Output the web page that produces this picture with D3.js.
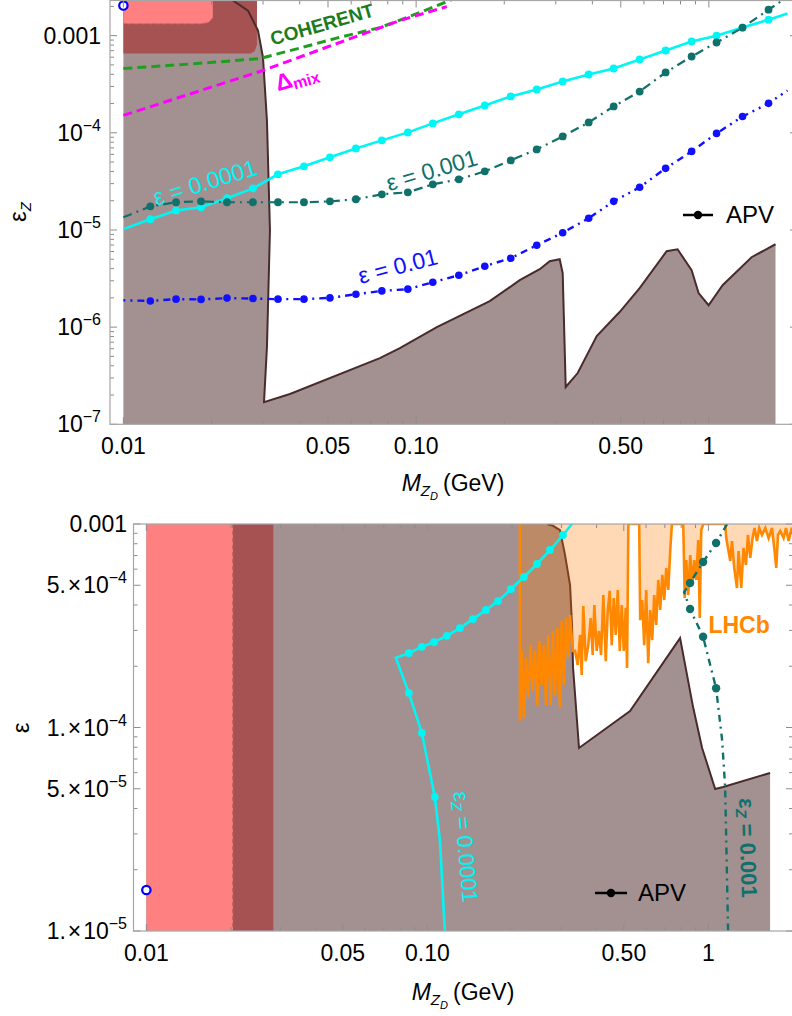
<!DOCTYPE html>
<html>
<head>
<meta charset="utf-8">
<script src="https://d3js.org/d3.v7.min.js"></script>
<style>
  body { margin: 0; background: #fff; }
  svg { font-family: "Liberation Sans", Arial, sans-serif; }
</style>
</head>
<body>
<script>
// ---------- data ----------

// mass grid of the dotted curves (top panel), GeV
var curveMass = [0.01, 0.01236, 0.01513, 0.01842, 0.02259, 0.0277, 0.03373, 0.04138, 0.05076, 0.06226,
  0.07636, 0.09369, 0.114, 0.1399, 0.1716, 0.2105, 0.2582, 0.3167, 0.3885, 0.4729,
  0.5801, 0.7116, 0.873, 1.062, 1.303, 1.599, 1.856];
// epsilon_Z along the curves for fixed epsilon
var epsZ_e1em4 = [1.02e-5, 1.29e-5, 1.59e-5, 1.71e-5, 2.12e-5, 2.68e-5, 3.74e-5, 4.52e-5, 5.59e-5, 6.91e-5,
  8.36e-5, 1.01e-4, 1.25e-4, 1.55e-4, 1.91e-4, 2.37e-4, 2.79e-4, 3.38e-4, 3.98e-4, 4.59e-4,
  5.68e-4, 7.03e-4, 8.70e-4, 1.00e-3, 1.21e-3, 1.46e-3, 1.69e-3];
var epsZ_e1em3 = [1.35e-5, 1.75e-5, 1.93e-5, 1.97e-5, 1.93e-5, 1.93e-5, 1.93e-5, 1.93e-5, 1.97e-5, 2.07e-5,
  2.33e-5, 2.44e-5, 2.95e-5, 3.32e-5, 4.01e-5, 5.20e-5, 6.75e-5, 9.18e-5, 1.28e-4, 1.87e-4,
  2.66e-4, 4.18e-4, 6.10e-4, 8.50e-4, 1.21e-3, 1.85e-3, 2.5e-3];
var epsZ_e1em2 = [1.89e-6, 1.86e-6, 1.94e-6, 1.93e-6, 1.99e-6, 1.97e-6, 1.94e-6, 1.94e-6, 2.00e-6, 2.18e-6,
  2.36e-6, 2.46e-6, 2.90e-6, 3.42e-6, 4.24e-6, 5.12e-6, 6.96e-6, 9.36e-6, 1.32e-5, 1.97e-5,
  2.75e-5, 4.31e-5, 6.44e-5, 9.86e-5, 1.47e-4, 2.01e-4, 2.73e-4];

// COHERENT and Delta_mix bounds (top panel)
var coherentMass = [0.01, 0.01562, 0.02313, 0.02928, 0.04011, 0.05492, 0.07517, 0.1029, 0.1303, 0.16];
var coherentEps = [4.59e-4, 5.02e-4, 5.48e-4, 5.82e-4, 7.46e-4, 9.63e-4, 1.21e-3, 1.73e-3, 2.30e-3, 3.2e-3];
var deltaMixMass = [0.01, 0.02998, 0.088, 0.1273];
var deltaMixEps = [1.51e-4, 4.38e-4, 1.43e-3, 1.99e-3];

// APV excluded region boundary, top panel (eps_Z)
var apvTopMass = [0.02368, 0.02664, 0.02883, 0.02998, 0.03093, 0.03167, 0.03093, 0.03022, 0.03707, 0.07517,
  0.08799, 0.1177, 0.1784, 0.2259, 0.2643, 0.286, 0.3093, 0.3167, 0.3243, 0.3564,
  0.4139, 0.4955, 0.5801, 0.7171, 0.7818, 0.873, 0.9223, 0.9977, 1.114, 1.399, 1.689];
var apvTopEps = [2.3e-3, 1.81e-3, 1.13e-3, 5.96e-4, 1.34e-4, 1e-5, 6.23e-7, 1.69e-7, 2.05e-7, 4.8e-7,
  6.08e-7, 1e-6, 1.85e-6, 3.04e-6, 3.95e-6, 4.77e-6, 5.0e-6, 3.59e-6, 2.42e-7, 3.37e-7,
  8.08e-7, 1.43e-6, 2.52e-6, 6.04e-6, 6.33e-6, 3.85e-6, 2.24e-6, 1.68e-6, 2.70e-6, 5.24e-6, 7.13e-6];

// other excluded patches, top panel
var darkTopMass = [0.01, 0.0286, 0.0286, 0.0281, 0.0272, 0.01];
var darkTopEps = [2.3e-3, 2.3e-3, 8.1e-4, 6.9e-4, 6.55e-4, 6.55e-4];
var pinkTopMass = [0.01, 0.0202, 0.0202, 0.0196, 0.0186, 0.01];
var pinkTopEps = [2.3e-3, 2.3e-3, 1.55e-3, 1.38e-3, 1.33e-3, 1.33e-3];

// APV boundary, bottom panel (eps)
var apvBotMass = [0.2665, 0.2799, 0.2965, 0.3089, 0.3219, 0.3271, 0.3298, 0.3464, 0.5262, 0.7929,
  0.882, 0.9497, 1.057, 1.128, 1.658];
var apvBotEps = [1e-3, 9.8e-4, 9.34e-4, 7.04e-4, 5.01e-4, 3.19e-4, 1.98e-4, 7.93e-5, 1.206e-4, 2.75e-4,
  1.26e-4, 7.93e-5, 4.99e-5, 5.1e-5, 5.98e-5];
var pinkBotMass = [0.01, 0.0203];
var darkBotMass = [0.0203, 0.0283];

// eps_Z = 0.0001 and 0.001 curves, bottom panel
var ezLowMass = [0.3271, 0.3038, 0.2731, 0.2455, 0.2206, 0.1983, 0.1783, 0.1616, 0.1452, 0.1305,
  0.1173, 0.1055, 0.09559, 0.0859, 0.07723, 0.0859, 0.09559, 0.1063, 0.1108, 0.1154];
var ezLowEps = [1.0e-3, 8.83e-4, 7.45e-4, 6.36e-4, 5.49e-4, 4.79e-4, 4.18e-4, 3.78e-4, 3.41e-4, 3.08e-4,
  2.82e-4, 2.63e-4, 2.49e-4, 2.32e-4, 2.20e-4, 1.48e-4, 9.4e-5, 4.56e-5, 2.80e-5, 1.0e-5];
var ezLowDot = [0, 1, 1, 1, 1, 1, 1, 1, 1, 1, 1, 1, 1, 1, 0, 1, 1, 1, 0, 0];
var ezHighMass = [1.166, 1.065, 0.9574, 0.8605, 0.8195, 0.8605, 0.9574, 1.065, 1.119, 1.147, 1.175];
var ezHighEps = [1e-3, 8.07e-4, 6.51e-4, 5.13e-4, 4.63e-4, 3.82e-4, 2.79e-4, 1.56e-4, 8.68e-5, 5.1e-5, 1e-5];
var ezHighDot = [0, 1, 1, 1, 0, 1, 1, 1, 0, 0, 0];

// LHCb lower edge (eps), bottom panel
var lhcbMass = [0.2135, 0.2135, 0.2165, 0.2206, 0.2243, 0.2286, 0.2331, 0.2369, 0.2415, 0.246,
  0.2501, 0.2551, 0.2599, 0.2643, 0.2693, 0.2746, 0.2792, 0.2846, 0.2899, 0.2965,
  0.3005, 0.3063, 0.3114, 0.3173, 0.3219, 0.3289, 0.3354, 0.3427, 0.3494, 0.3541,
  0.3588, 0.3659, 0.3738, 0.3813, 0.3875, 0.3927, 0.4004, 0.4081, 0.4149, 0.4228,
  0.4312, 0.4383, 0.4455, 0.4529, 0.4604, 0.468, 0.4758, 0.4837, 0.4916, 0.4998,
  0.508, 0.5135, 0.519,
  0.5672, 0.5719, 0.5813, 0.5909, 0.6007, 0.6107, 0.6208, 0.631, 0.6415, 0.6521,
  0.6629, 0.6739, 0.685, 0.6963, 0.7079, 0.7196, 0.7313, 0.7415,
  0.8137, 0.8237, 0.8339, 0.8477, 0.8618, 0.876, 0.8905, 0.9052, 0.9202, 0.9316, 0.9431, 0.9587,
  1.148, 1.1575, 1.196, 1.2127, 1.2358, 1.2636, 1.2803, 1.3088, 1.3336, 1.3602,
  1.3826, 1.409, 1.4359, 1.4596, 1.4886, 1.5171, 1.5514, 1.5941, 1.6379, 1.6832,
  1.7196, 1.7437, 1.7682, 1.802, 1.8514, 1.8883, 1.929, 1.972, 2.0];
var lhcbEps = [1e-3, 1.08e-4, 2.38e-4, 1.11e-4, 2.20e-4, 1.40e-4, 2.54e-4, 1.51e-4, 2.38e-4, 1.29e-4,
  2.66e-4, 1.62e-4, 2.54e-4, 1.29e-4, 2.85e-4, 1.29e-4, 2.98e-4, 1.44e-4, 3.08e-4, 1.25e-4,
  3.34e-4, 1.62e-4, 3.45e-4, 2.20e-4, 3.57e-4, 2.38e-4, 2.38e-4, 2.03e-4, 2.85e-4, 1.81e-4,
  3.95e-4, 2.12e-4, 2.54e-4, 3.45e-4, 2.27e-4, 4.00e-4, 2.38e-4, 2.98e-4, 2.27e-4, 4.48e-4,
  2.12e-4, 3.74e-4, 4.69e-4, 2.54e-4, 4.33e-4, 2.85e-4, 4.74e-4, 2.38e-4, 4.00e-4, 2.38e-4,
  3.87e-4, 1.96e-4, 1e-3,
  1e-3, 3.37e-4, 4.23e-4, 2.54e-4, 4.74e-4, 2.07e-4, 3.78e-4, 2.69e-4, 4.48e-4, 3.19e-4,
  5.31e-4, 3.78e-4, 5.62e-4, 4.23e-4, 6.08e-4, 4.74e-4, 7.37e-4, 1e-3,
  1e-3, 4.33e-4, 6.65e-4, 4.48e-4, 7.04e-4, 5.01e-4, 6.65e-4, 5.31e-4, 8.34e-4, 3.45e-4, 9.34e-4, 1e-3,
  1e-3, 8.53e-4, 6.58e-4, 8.25e-4, 6.08e-4, 4.85e-4, 7.37e-4, 4.85e-4, 7.62e-4, 6.29e-4,
  8.83e-4, 6.81e-4, 8.53e-4, 9.56e-4, 8.25e-4, 9.56e-4, 8.83e-4, 9.56e-4, 8.53e-4, 9.56e-4,
  7.37e-4, 6.08e-4, 8.83e-4, 9.24e-4, 8.53e-4, 9.56e-4, 8.25e-4, 9.34e-4, 9.0e-4];

// tick labels
var xMajor = [0.01, 0.05, 0.1, 0.5, 1];
var xMajorText = ["0.01", "0.05", "0.10", "0.50", "1"];
var yTopMajor = [1e-3, 1e-4, 1e-5, 1e-6, 1e-7];
var yTopMajorText = [["0.001", ""], ["10", "\u22124"], ["10", "\u22125"], ["10", "\u22126"], ["10", "\u22127"]];
var yBotMajor = [1e-3, 5e-4, 1e-4, 5e-5, 1e-5];
var yBotMajorText = [["0.001", ""], ["5.\u200a\u00d7\u200a10", "\u22124"], ["1.\u200a\u00d7\u200a10", "\u22124"],
  ["5.\u200a\u00d7\u200a10", "\u22125"], ["1.\u200a\u00d7\u200a10", "\u22125"]];

// ---------- colours ----------
var cGrey = "#a39191", cEdge = "#4a2b2b", cDark = "#a65252", cPink = "#ff8080";
var cCyan = "#00f5f5", cTeal = "#10706a", cBlue = "#1010ff";
var cGreen = "#1f9f1f", cGreenText = "#1c7c1c", cMag = "#ff00ff", cOrange = "#ff8800";

function zip(a, b) { return a.map(function(v, i) { return [v, b[i]]; }); }

var svg = d3.select("body").append("svg")
    .attr("width", 792).attr("height", 1016);

// scales
var xTop = d3.scaleLog().domain([0.009, 2]).range([110, 797]);
var yTop = d3.scaleLog().domain([1e-7, 2.3e-3]).range([424.3, 0.5]);
var xBot = d3.scaleLog().domain([0.009, 2]).range([133.5, 793]);
var yBot = d3.scaleLog().domain([1e-5, 1e-3]).range([931, 524]);

var defs = svg.append("defs");
defs.append("clipPath").attr("id", "clipTop").append("rect")
    .attr("x", 110).attr("y", 0.5).attr("width", 687).attr("height", 423.8);
defs.append("clipPath").attr("id", "clipBot").append("rect")
    .attr("x", 133.5).attr("y", 524).attr("width", 659.5).attr("height", 407);

function minorTicks(lo, hi, major) {
    var out = [];
    for (var e = -8; e <= 1; e++) {
        for (var m = 1; m <= 9; m++) {
            var v = m * Math.pow(10, e);
            if (v > lo * 1.001 && v < hi * 0.999 &&
                !major.some(function(t) { return Math.abs(t - v) / t < 1e-6; })) out.push(v);
        }
    }
    return out;
}

// frame with inward ticks on all four sides
function drawFrame(g, x, y, yMajor) {
    var x0 = x.range()[0], x1 = x.range()[1], y0 = y.range()[0], y1 = y.range()[1];
    var xMinor = minorTicks(x.domain()[0], x.domain()[1], xMajor);
    var yMinor = minorTicks(y.domain()[0], y.domain()[1], yMajor);
    var tk = g.append("g").attr("stroke", "#8c8c8c").attr("stroke-width", 1);
    [[xMajor, 7], [xMinor, 4]].forEach(function(s) {
        s[0].forEach(function(v) {
            tk.append("line").attr("x1", x(v)).attr("x2", x(v)).attr("y1", y0).attr("y2", y0 - s[1]);
            tk.append("line").attr("x1", x(v)).attr("x2", x(v)).attr("y1", y1).attr("y2", y1 + s[1]);
        });
    });
    [[yMajor, 7], [yMinor, 4]].forEach(function(s) {
        s[0].forEach(function(v) {
            tk.append("line").attr("y1", y(v)).attr("y2", y(v)).attr("x1", x0).attr("x2", x0 + s[1]);
            tk.append("line").attr("y1", y(v)).attr("y2", y(v)).attr("x1", x1).attr("x2", x1 - s[1]);
        });
    });
    g.append("rect")
        .attr("x", x0).attr("y", y1).attr("width", x1 - x0).attr("height", y0 - y1)
        .attr("fill", "none").attr("stroke", "#a6a6a6").attr("stroke-width", 1.2);
}

function tickLabels(g, x, y, yMajor, yText, xLabelY, yLabelX) {
    xMajor.forEach(function(v, i) {
        g.append("text").attr("x", x(v)).attr("y", xLabelY)
            .attr("text-anchor", "middle").attr("font-size", 23).text(xMajorText[i]);
    });
    yMajor.forEach(function(v, i) {
        var t = g.append("text").attr("x", yLabelX).attr("y", y(v) + 8)
            .attr("text-anchor", "end").attr("font-size", 23);
        t.append("tspan").text(yText[i][0]);
        if (yText[i][1]) t.append("tspan").attr("dy", -10).attr("font-size", 16).text(yText[i][1]);
    });
}

function massTitle(g, cx, cy) {
    var t = g.append("text").attr("x", cx).attr("y", cy)
        .attr("text-anchor", "middle").attr("font-size", 23);
    t.append("tspan").attr("font-style", "italic").text("M");
    t.append("tspan").attr("font-style", "italic").attr("font-size", 15).attr("dy", 5).text("Z");
    t.append("tspan").attr("font-style", "italic").attr("font-size", 11).attr("dy", 4).text("D");
    t.append("tspan").attr("dy", -9).attr("dx", 5).text("(GeV)");
}

function curve(g, x, y, pts, color, width, dash) {
    return g.append("path").datum(pts)
        .attr("d", d3.line().x(function(d) { return x(d[0]); }).y(function(d) { return y(d[1]); }))
        .attr("fill", "none").attr("stroke", color).attr("stroke-width", width)
        .attr("stroke-dasharray", dash || null);
}

function area(g, x, y, pts, color) {
    return g.append("path").datum(pts)
        .attr("d", d3.line().x(function(d) { return x(d[0]); }).y(function(d) { return y(d[1]); })
            .curve(d3.curveLinearClosed))
        .attr("fill", color);
}

function dots(g, x, y, pts, color, r) {
    g.selectAll(null).data(pts).enter().append("circle")
        .attr("cx", function(d) { return x(d[0]); })
        .attr("cy", function(d) { return y(d[1]); })
        .attr("r", r).attr("fill", color);
}

function tiltedLabel(g, px, py, angle, color, size, text, weight) {
    return g.append("text")
        .attr("transform", "translate(" + px + "," + py + ") rotate(" + angle + ")")
        .attr("text-anchor", "middle").attr("dominant-baseline", "central")
        .attr("font-size", size).attr("font-weight", weight || "normal")
        .attr("fill", color).text(text);
}

function apvLegend(g, x1, x2, xt, yy) {
    g.append("line").attr("x1", x1).attr("x2", x2).attr("y1", yy).attr("y2", yy)
        .attr("stroke", "#000").attr("stroke-width", 2.5);
    g.append("circle").attr("cx", (x1 + x2) / 2).attr("cy", yy).attr("r", 4.2).attr("fill", "#000");
    g.append("text").attr("x", xt).attr("y", yy + 8).attr("font-size", 24).text("APV");
}

// ================= top panel =================
var gt = svg.append("g");
var pt = gt.append("g").attr("clip-path", "url(#clipTop)");

var topEdge = zip(apvTopMass, apvTopEps);
area(pt, xTop, yTop, [[0.01, 2.3e-3]].concat(topEdge, [[1.689, 1e-7], [0.01, 1e-7]]), cGrey);
area(pt, xTop, yTop, zip(darkTopMass, darkTopEps), cDark);
area(pt, xTop, yTop, zip(pinkTopMass, pinkTopEps), cPink);
curve(pt, xTop, yTop, zip(pinkTopMass, pinkTopEps).slice(2, 6), "#e26e6e", 1.3, "4,3");
curve(pt, xTop, yTop, topEdge, cEdge, 2);

curve(pt, xTop, yTop, zip(coherentMass, coherentEps), cGreen, 3, "9,5");
curve(pt, xTop, yTop, zip(deltaMixMass, deltaMixEps), cMag, 3, "9,5");

var cyanPts = zip(curveMass, epsZ_e1em4);
var tealPts = zip(curveMass, epsZ_e1em3);
var bluePts = zip(curveMass, epsZ_e1em2);
curve(pt, xTop, yTop, cyanPts, cCyan, 2.6);
curve(pt, xTop, yTop, tealPts, cTeal, 2.2, "9,5,2,5");
curve(pt, xTop, yTop, bluePts, cBlue, 2.4, "2,5,2,5,7,5");
dots(pt, xTop, yTop, cyanPts.slice(1, 26), cCyan, 3.9);
dots(pt, xTop, yTop, tealPts.slice(1, 26), cTeal, 3.9);
dots(pt, xTop, yTop, bluePts.slice(1, 26), cBlue, 3.8);

tiltedLabel(gt, xTop(0.019), yTop(3.09e-5), -17, cCyan, 23, "\u03b5 = 0.0001");
tiltedLabel(gt, xTop(0.1131), yTop(4.11e-5), -16.5, cTeal, 23, "\u03b5 = 0.001");
tiltedLabel(gt, xTop(0.0866), yTop(4.24e-6), -14.5, cBlue, 23, "\u03b5 = 0.01");
tiltedLabel(gt, xTop(0.0477), yTop(1.30e-3), -16, cGreenText, 19, "COHERENT", "bold");
var dm = tiltedLabel(gt, xTop(0.03915), yTop(3.71e-4), -16, cMag, 23, "\u0394", "bold");
dm.append("tspan").attr("font-size", 16).attr("dy", 5).text("mix");

gt.append("circle").attr("cx", xTop(0.01)).attr("cy", yTop(2.04e-3)).attr("r", 4.2)
    .attr("fill", "#fff").attr("stroke", "#0000ff").attr("stroke-width", 2.2);

apvLegend(gt, 683, 713, 726, 215);

drawFrame(gt, xTop, yTop, yTopMajor);
tickLabels(gt, xTop, yTop, yTopMajor, yTopMajorText, 454, 101);
massTitle(gt, 453, 491);
var yt1 = gt.append("text").attr("transform", "translate(26,212) rotate(-90)")
    .attr("text-anchor", "middle").attr("font-size", 24);
yt1.append("tspan").text("\u03b5");
yt1.append("tspan").attr("font-style", "italic").attr("font-size", 15).attr("dy", 5).text("Z");

// ================= bottom panel =================
var gb = svg.append("g");
var pb = gb.append("g").attr("clip-path", "url(#clipBot)");

var botEdge = zip(apvBotMass, apvBotEps);
area(pb, xBot, yBot, [[0.01, 1e-3]].concat(botEdge, [[1.658, 1e-5], [0.01, 1e-5]]), cGrey);
area(pb, xBot, yBot, [[darkBotMass[0], 1e-3], [darkBotMass[1], 1e-3], [darkBotMass[1], 1e-5], [darkBotMass[0], 1e-5]], cDark);
area(pb, xBot, yBot, [[pinkBotMass[0], 1e-3], [pinkBotMass[1], 1e-3], [pinkBotMass[1], 1e-5], [pinkBotMass[0], 1e-5]], cPink);
curve(pb, xBot, yBot, [[pinkBotMass[1], 1e-3], [pinkBotMass[1], 1e-5]], "#c85e5e", 1.3, "4,3");
curve(pb, xBot, yBot, botEdge, cEdge, 2);

var lhcb = zip(lhcbMass, lhcbEps);
area(pb, xBot, yBot, lhcb.concat([[2.0, 1e-3]]), "rgba(255,121,0,0.29)");
curve(pb, xBot, yBot, lhcb, cOrange, 2.6);

var ezLow = zip(ezLowMass, ezLowEps);
var ezHigh = zip(ezHighMass, ezHighEps);
curve(pb, xBot, yBot, ezLow, cCyan, 2.6);
curve(pb, xBot, yBot, ezHigh, cTeal, 2.4, "7,5,2,5");
dots(pb, xBot, yBot, ezLow.filter(function(d, i) { return ezLowDot[i]; }), cCyan, 3.9);
dots(pb, xBot, yBot, ezHigh.filter(function(d, i) { return ezHighDot[i]; }), cTeal, 4.2);

var l1 = tiltedLabel(gb, xBot(0.1371), yBot(2.59e-5), 85, cCyan, 22, "\u03b5");
l1.append("tspan").attr("font-size", 15).attr("font-style", "italic").attr("dy", 5).text("Z");
l1.append("tspan").attr("dy", -5).text(" = 0.0001");
var l2 = tiltedLabel(gb, xBot(1.385), yBot(2.56e-5), 88, cTeal, 22, "\u03b5", "bold");
l2.append("tspan").attr("font-size", 15).attr("font-style", "italic").attr("dy", 5).text("Z");
l2.append("tspan").attr("dy", -5).text(" = 0.001");
tiltedLabel(gb, xBot(1.286), yBot(3.19e-4), 0, cOrange, 23, "LHCb", "bold");

gb.append("circle").attr("cx", xBot(0.01)).attr("cy", yBot(1.59e-5)).attr("r", 4.2)
    .attr("fill", "#fff").attr("stroke", "#0000ff").attr("stroke-width", 2.2);

apvLegend(gb, 595, 627, 638, 893);

drawFrame(gb, xBot, yBot, yBotMajor);
tickLabels(gb, xBot, yBot, yBotMajor, yBotMajorText, 961, 127);
massTitle(gb, 463, 1000);
gb.append("text").attr("transform", "translate(29,728) rotate(-90)")
    .attr("text-anchor", "middle").attr("font-size", 24).text("\u03b5");
</script>
</body>
</html>
